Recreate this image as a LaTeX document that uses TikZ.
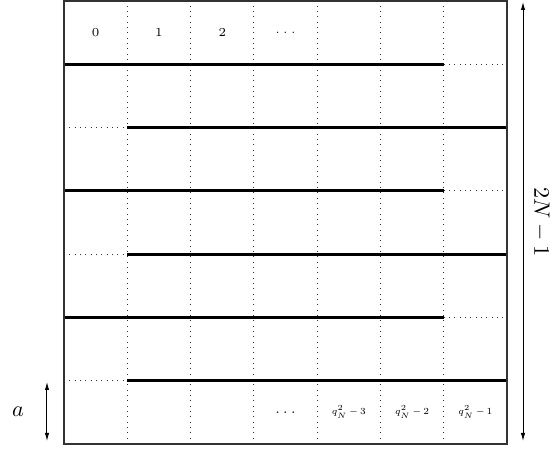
\documentclass[tikz,border=0pt]{standalone}
\usetikzlibrary{arrows.meta}
\newcommand\qlab[1]{\scalebox{0.7}{$\medmuskip=3mu\relax q_N^2-#1$}}
\begin{document}
\begin{tikzpicture}[x=0.45pt,y=0.45pt,
  gridborder/.style={line width=0.75pt, draw=black!80},
  thin dots/.style={dotted, line width=0.4pt, draw=black!80},
  thickline/.style={line width=1.4pt},
  dimarrow/.style={{Latex[length=3.6pt,width=2pt]}-{Latex[length=3.6pt,width=2pt]}, line width=0.45pt},
  cellnum/.style={font=\fontsize{5.5}{6}\selectfont, inner sep=0pt},
  celllab/.style={font=\fontsize{6}{7}\selectfont, inner sep=0pt},
  biglab/.style={font=\fontsize{10}{12}\selectfont, inner sep=0pt}]
\useasboundingbox (0,0) rectangle (554,449);
\pgfmathsetmacro\cw{63.3}
% vertical dotted lines
\foreach \i in {1,...,6} {
  \draw[thin dots] ({64+\i*\cw},5) -- ({64+\i*\cw},{5+7*\cw});
}
% horizontal lines
\foreach \j in {2,4,6} {
  \draw[thin dots] ({64+6*\cw},{5+\j*\cw}) -- ({64+7*\cw},{5+\j*\cw});
  \draw[thickline] (64,{5+\j*\cw}) -- ({64+6*\cw},{5+\j*\cw});
}
\foreach \j in {1,3,5} {
  \draw[thin dots] (64,{5+\j*\cw}) -- ({64+\cw},{5+\j*\cw});
  \draw[thickline] ({64+\cw},{5+\j*\cw}) -- ({64+7*\cw},{5+\j*\cw});
}
% border
\draw[gridborder] (64,5) rectangle ({64+7*\cw},{5+7*\cw});
% top row labels
\node[cellnum] (t0) at ({64+0.5*\cw},{5+6.5*\cw}) {0};
\node[cellnum] (t1) at ({64+1.5*\cw},{5+6.5*\cw}) {1};
\node[cellnum] (t2) at ({64+2.5*\cw},{5+6.5*\cw}) {2};
\node[cellnum] (t3) at ({64+3.5*\cw},{5+6.5*\cw}) {$\dots$};
% bottom row labels
\node[celllab] (b3) at ({64+3.5*\cw},{5+0.5*\cw}) {$\dots$};
\node[celllab] (b4) at ({64+4.5*\cw},{5+0.5*\cw}) {\qlab{3}};
\node[celllab] (b5) at ({64+5.5*\cw},{5+0.5*\cw}) {\qlab{2}};
\node[celllab] (b6) at ({64+6.5*\cw},{5+0.5*\cw}) {\qlab{1}};
% dimension arrows
\coordinate (a1) at (47,67);
\coordinate (a2) at (47,8);
\draw[dimarrow] (a1) -- (a2);
\node[biglab] (alab) at (18,37) {$a$};
\coordinate (n1) at (523,447);
\coordinate (n2) at (523,8);
\draw[dimarrow] (n1) -- (n2);
\node[biglab, rotate=-90] (nlab) at (541,227) {$2N-1$};
\end{tikzpicture}
\end{document}
